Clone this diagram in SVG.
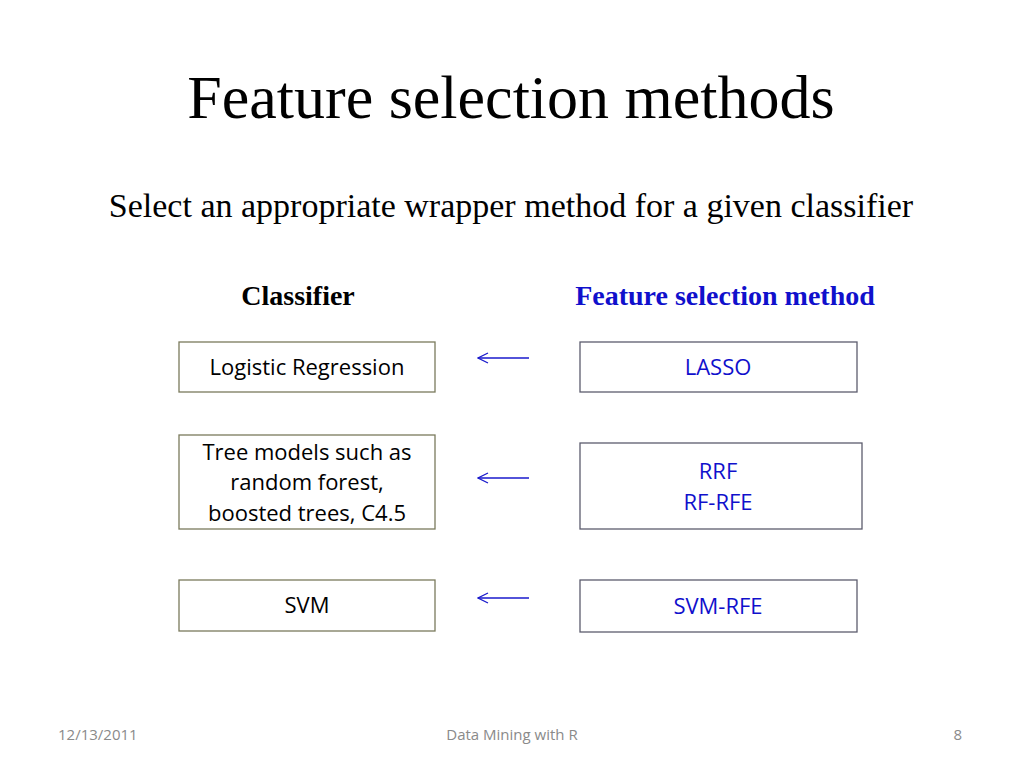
<svg xmlns="http://www.w3.org/2000/svg" width="1024" height="768" viewBox="0 0 1024 768">
<defs>
<style>
.title{font-family:"Liberation Serif",serif;font-size:62px;fill:#000}
.sub{font-family:"Liberation Serif",serif;font-size:34px;fill:#000}
.hdr{font-family:"Liberation Serif",serif;font-size:28px;font-weight:bold}
.lbox{fill:#fff;stroke:#7a7a5c;stroke-width:1.3}
.rbox{fill:#fff;stroke:#5c5c6e;stroke-width:1.3}
.lt{font-family:"Open Sans","Liberation Sans",sans-serif;font-size:22px;fill:#000;text-anchor:middle}
.rt{font-family:"Open Sans","Liberation Sans",sans-serif;font-size:22px;fill:#1010cc;text-anchor:middle}
.foot{font-family:"Open Sans","Liberation Sans",sans-serif;font-size:15px;fill:#8a8a8a}
.arr{stroke:#1a1acc;stroke-width:1.3;fill:none}
</style>
<marker id="ah" viewBox="0 0 12 12" refX="11" refY="6" markerWidth="12" markerHeight="12" markerUnits="userSpaceOnUse" orient="auto">
<path d="M1,1 L11,6 L1,11" fill="none" stroke="#1a1acc" stroke-width="1.3"/>
</marker>
</defs>
<rect width="1024" height="768" fill="#fff"/>
<text class="title" x="511" y="118" text-anchor="middle">Feature selection methods</text>
<text class="sub" x="511" y="217" text-anchor="middle">Select an appropriate wrapper method for a given classifier</text>
<text class="hdr" x="298" y="305" text-anchor="middle" fill="#000">Classifier</text>
<text class="hdr" x="725" y="305" text-anchor="middle" fill="#1010cc">Feature selection method</text>
<g id="logistic"><rect class="lbox" x="179" y="342" width="256" height="50"/><text class="lt" x="307" y="375">Logistic Regression</text></g>
<g id="tree"><rect class="lbox" x="179" y="435" width="256" height="94"/><text class="lt" x="307" y="460">Tree models such as</text><text class="lt" x="307" y="490">random forest,</text><text class="lt" x="307" y="521">boosted trees, C4.5</text></g>
<g id="svm"><rect class="lbox" x="179" y="580" width="256" height="51"/><text class="lt" x="307" y="613">SVM</text></g>
<g id="lasso"><rect class="rbox" x="580" y="342" width="277" height="50"/><text class="rt" x="718" y="375">LASSO</text></g>
<g id="rrf"><rect class="rbox" x="580" y="443" width="282" height="86"/><text class="rt" x="718" y="479">RRF</text><text class="rt" x="718" y="510">RF-RFE</text></g>
<g id="svmrfe"><rect class="rbox" x="580" y="580" width="277" height="52"/><text class="rt" x="718" y="614">SVM-RFE</text></g>
<g id="connectors">
<line class="arr" x1="529" y1="358" x2="478" y2="358" marker-end="url(#ah)"/>
<line class="arr" x1="529" y1="478" x2="478" y2="478" marker-end="url(#ah)"/>
<line class="arr" x1="529" y1="598" x2="478" y2="598" marker-end="url(#ah)"/>
</g>
<text class="foot" x="58" y="740">12/13/2011</text>
<text class="foot" x="512" y="740" text-anchor="middle">Data Mining with R</text>
<text class="foot" x="962" y="740" text-anchor="end">8</text>
</svg>
